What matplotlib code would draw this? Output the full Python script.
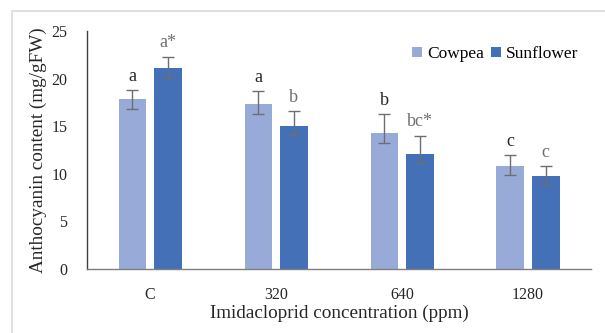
import matplotlib
matplotlib.use("Agg")
import matplotlib.pyplot as plt
import numpy as np
from matplotlib.patches import Rectangle, Patch

categories = ["C", "320", "640", "1280"]
series_names = ["Cowpea", "Sunflower"]
cowpea = [17.85, 17.3, 14.25, 10.85]
cowpea_err_low = [1.0, 1.0, 1.05, 1.0]
cowpea_err_high = [0.95, 1.4, 2.05, 1.1]
sunflower = [21.15, 15.05, 12.08, 9.77]
sunflower_err_low = [1.05, 0.95, 0.98, 0.97]
sunflower_err_high = [1.15, 1.55, 1.92, 1.03]
cowpea_labels = ["a", "a", "b", "c"]
sunflower_labels = ["a*", "b", "bc*", "c"]
yticks = [0, 5, 10, 15, 20, 25]

c_cow = "#98AAD8"
c_sun = "#4470B8"
err_col = "#6E6E6E"

plt.rcParams["font.family"] = ["Liberation Serif", "DejaVu Serif"]

fig = plt.figure(figsize=(6.05, 3.33), dpi=100)
fig.patch.set_facecolor("white")
# outer chart border (partially clipped)
fig.add_artist(Rectangle((12/605, -0.1), 1.2, 1 - 11/333 + 0.1, transform=fig.transFigure,
                         fill=False, edgecolor="#D9D9D9", linewidth=1.2))

ax = fig.add_axes([87/605, 1 - 269/333, (591-87)/605, (269-31)/333])
x = np.arange(len(categories))
w = 0.222
off = 0.139
ax.bar(x - off, cowpea, w, color=c_cow, zorder=2)
ax.bar(x + off, sunflower, w, color=c_sun, zorder=2)
ax.errorbar(x - off, cowpea, yerr=[cowpea_err_low, cowpea_err_high], fmt="none",
            ecolor=err_col, elinewidth=1.0, capsize=4, capthick=1.0, zorder=3)
ax.errorbar(x + off, sunflower, yerr=[sunflower_err_low, sunflower_err_high], fmt="none",
            ecolor=err_col, elinewidth=1.0, capsize=4, capthick=1.0, zorder=3)

for i in range(len(categories)):
    ax.text(x[i] - off, cowpea[i] + cowpea_err_high[i] + 0.55, cowpea_labels[i],
            ha="center", va="bottom", fontsize=13, color="#262626")
    ax.text(x[i] + off, sunflower[i] + sunflower_err_high[i] + 0.55, sunflower_labels[i],
            ha="center", va="bottom", fontsize=13, color="#6E6E6E")

ax.set_xlim(-0.5, 3.5)
ax.set_ylim(0, 25)
ax.set_yticks(yticks)
ax.set_xticks(x)
ax.set_xticklabels(categories)
ax.tick_params(axis="both", length=0, labelsize=11.5, colors="#262626")
ax.tick_params(axis="y", pad=14)
ax.tick_params(axis="x", pad=13)
for s in ["top", "right"]:
    ax.spines[s].set_visible(False)
ax.spines["left"].set_color("#404040")
ax.spines["bottom"].set_color("#7F7F7F")
ax.spines["left"].set_linewidth(1.0)
ax.spines["bottom"].set_linewidth(1.0)

ax.set_xlabel("Imidacloprid concentration (ppm)", fontsize=13.8, color="#262626", labelpad=1)
ax.set_ylabel("Anthocyanin content (mg/gFW)", fontsize=13.8, color="#262626", labelpad=3)

handles = [Patch(facecolor=c_cow), Patch(facecolor=c_sun)]
fig.legend(handles, series_names, loc="center left", bbox_to_anchor=(412/605, 1 - 54/333),
           ncol=2, frameon=False, fontsize=12.5, handlelength=0.55, handleheight=0.55,
           handletextpad=0.3, columnspacing=0.45, borderaxespad=0, borderpad=0)

fig.savefig("out.png", dpi=100, facecolor="white")
